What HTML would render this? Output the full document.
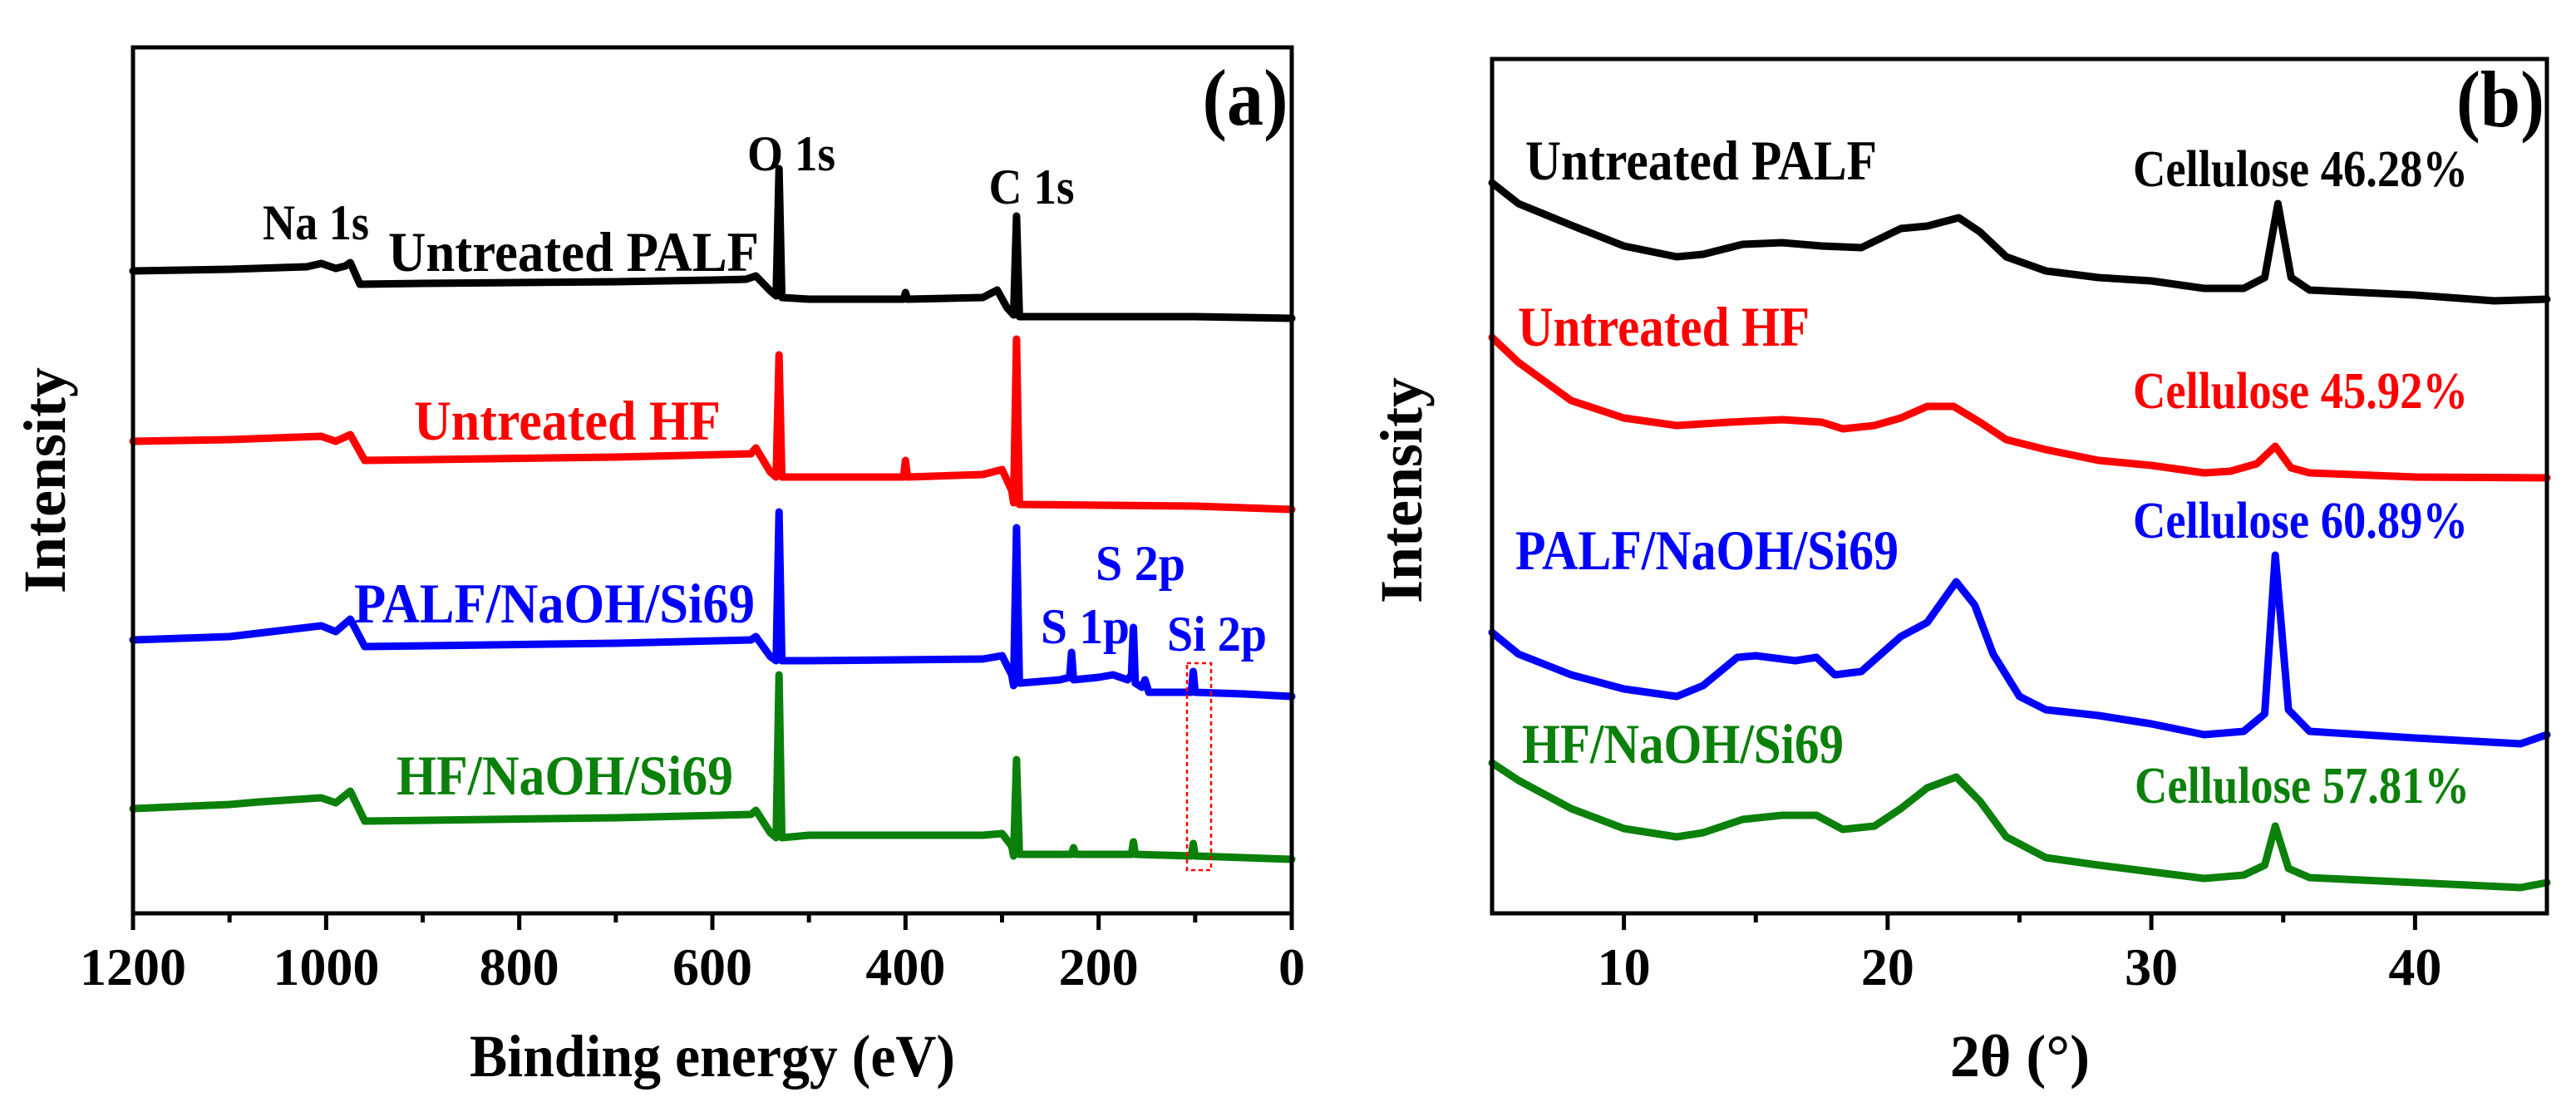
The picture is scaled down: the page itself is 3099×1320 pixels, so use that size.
<!DOCTYPE html>
<html><head><meta charset="utf-8"><style>
html,body{margin:0;padding:0;background:#fff;}
svg{display:block;font-family:"Liberation Serif",serif;font-weight:bold;}
</style></head><body>
<svg id="fig" width="3099" height="1320" viewBox="0 0 3099 1320" xmlns="http://www.w3.org/2000/svg">
<g id="pa"></g>
<g id="pb"></g>
</svg>
<script>
// Panel a (XPS) data
const aBlackE=[1200,1100,1020,1005,990,980,975,965,900,700,600,565,555,540,534,531,528,500,402,400,398,320,305,295,288,285,282,100,0];
const aBlackV=[773,775,778,782,776,779,783,757,758,760,762,763,767,749,743,896,741,739,739,747,739,741,750,729,720,839,718,718,716];
const aRedE=[1200,1100,1005,990,975,960,700,560,555,540,534,531,528,500,402,400,398,320,300,290,288,285,282,100,0];
const aRedV=[568,570,574,568,576,545,549,553,560,531,525,672,525,525,525,545,525,528,534,509,494,691,492,490,486];
const aBlueE=[1200,1100,1005,990,975,960,700,560,555,540,534,531,528,500,320,300,290,288,285,282,240,230,228,226,200,185,170,166,164,162,155,152,148,130,104,102,100,50,0];
const aBlueV=[329,333,346,339,354,321,325,329,333,309,304,483,304,304,306,310,287,274,464,277,281,284,314,281,284,287,281,287,344,277,272,281,266,266,266,291,266,264,261];
const aGreenE=[1200,1100,1070,1005,990,975,960,700,560,555,540,534,531,528,500,400,320,300,290,288,285,282,228,226,224,166,164,162,104,102,100,0];
const aGreenV=[126,131,134,139,133,147,111,115,119,124,97,91,287,91,94,94,94,96,81,69,185,71,71,79,71,71,86,71,69,84,69,65];
const aTicks=[1200,1000,800,600,400,200,0];
const aMinor=[1100,900,700,500,300,100];
// Panel b (XRD) data
const bBlackT=[5,6,8,10,12,13,14.5,16,17.5,19,20.5,21.5,22.7,23.5,24.5,26,28,30,32,33.5,34.3,34.8,35.3,36,40,43,45];
const bBlackV=[879,854,828,803,790,793,805,807,803,801,824,827,837,820,790,773,765,761,752,752,765,854,765,750,744,737,739];
const bRedT=[5,6,8,10,12,14,16,17.5,18.3,19.5,20.5,21.5,22.5,23.5,24.5,26,28,30,32,33,34,34.7,35.3,36,40,45];
const bRedV=[693,663,617,596,587,591,594,591,583,587,596,610,610,591,570,558,545,539,530,532,541,562,536,530,525,524];
const bBlueT=[5,6,8,10,12,13,14.3,15,16.5,17.3,18,19,20.5,21.5,22.6,23.3,24,25,26,28,30,32,33.5,34.3,34.7,35.2,36,40,44,45];
const bBlueV=[338,312,287,270,261,274,308,310,304,308,287,291,333,350,399,371,312,261,245,238,228,215,219,240,431,245,219,211,204,215];
const bGreenT=[5,6,8,10,12,13,14.5,16,17.3,18.3,19.5,20.5,21.5,22.6,23.5,24.5,26,28,30,32,33.5,34.3,34.7,35.2,36,40,44,45];
const bGreenV=[181,160,126,102,92,97,113,118,118,101,105,126,151,164,135,92,67,58,50,42,46,58,105,54,43,37,31,37];
const bTicks=[10,20,30,40];
const bMinor=[15,25,35];

const NS="http://www.w3.org/2000/svg";
function mk(parent,tag,attrs,text){const e=document.createElementNS(NS,tag);for(const k in attrs)e.setAttribute(k,attrs[k]);if(text!==undefined)e.textContent=text;parent.appendChild(e);return e;}
const BOT=1099;
// panel a axes
const aL=160,aR=1554,aT=57;
const ax=e=>aL+(1200-e)/1200*(aR-aL);
const ay=v=>BOT-v/1042*(BOT-aT);
// panel b axes
const bL=1795,bR=3064,bT=71;
const bx=t=>bL+(t-5)/40*(bR-bL);
const by=v=>BOT-v/1028*(BOT-bT);

function series(g,X,V,fx,fy,color,name){
  const d=X.map((x,i)=>(i?'L':'M')+fx(x).toFixed(1)+','+fy(V[i]).toFixed(1)).join('');
  const p=mk(g,'path',{d:d,fill:'none',stroke:color,'stroke-width':9,'stroke-linejoin':'round','stroke-linecap':'round'});
  
  
}
function label(g,x,y,txt,color,size,len,name,anchor){
  const t=mk(g,'text',{x:x,y:y,fill:color,'font-size':size,'text-anchor':anchor||'start'},txt);
  if(len){t.setAttribute('textLength',len);t.setAttribute('lengthAdjust','spacingAndGlyphs');}
  
  
}
function frame(g,L,R,T,name){
  const r=mk(g,'rect',{x:L,y:T,width:R-L,height:BOT-T,fill:'none',stroke:'#000','stroke-width':5});
  
  
}
const ga=document.getElementById('pa'), gb=document.getElementById('pb');
const RED='#ff0000',BLUE='#0000ff',GREEN='#0b800b';

// Panel a
series(ga,aBlackE,aBlackV,ax,ay,'#000','xps-untreated-palf');
series(ga,aRedE,aRedV,ax,ay,RED,'xps-untreated-hf');
series(ga,aBlueE,aBlueV,ax,ay,BLUE,'xps-palf-naoh-si69');
series(ga,aGreenE,aGreenV,ax,ay,GREEN,'xps-hf-naoh-si69');
frame(ga,aL,aR,aT,'plot-frame-a');
aTicks.forEach(t=>{
  const l=mk(ga,'line',{x1:ax(t),x2:ax(t),y1:BOT,y2:BOT+20,stroke:'#000','stroke-width':5});
  
  
  label(ga,ax(t),1185,String(t),'#000',64,null,'x-tick-label-a','middle');
});
aMinor.forEach(t=>{
  const l=mk(ga,'line',{x1:ax(t),x2:ax(t),y1:BOT,y2:BOT+11,stroke:'#000','stroke-width':5});
  
  
});
const box=mk(ga,'rect',{x:1428,y:798,width:29,height:249,fill:'none',stroke:RED,'stroke-width':2.5,'stroke-dasharray':'5,4'});


label(ga,380,288,'Na 1s','#000',60,128,'na1s-label','middle');
label(ga,952,205,'O 1s','#000',60,106,'o1s-label','middle');
label(ga,1241,245,'C 1s','#000',60,103,'c1s-label','middle');
label(ga,467,326,'Untreated PALF','#000',68,446,'label-untreated-palf-a');
label(ga,498,529,'Untreated HF',RED,68,369,'label-untreated-hf-a');
label(ga,426,749,'PALF/NaOH/Si69',BLUE,68,482,'label-palf-naoh-si69-a');
label(ga,477,956,'HF/NaOH/Si69',GREEN,68,405,'label-hf-naoh-si69-a');
label(ga,1318,698,'S 2p',BLUE,60,108,'s2p-label');
label(ga,1252,774,'S 1p',BLUE,60,107,'s1p-label');
label(ga,1404,783,'Si 2p',BLUE,60,120,'si2p-label');
label(ga,1498,150,'(a)','#000',96,103,'panel-a-tag','middle');
label(ga,857,1295,'Binding energy (eV)','#000',72,584,'x-axis-title-a','middle');
const ya=mk(ga,'text',{x:0,y:0,'font-size':72,'text-anchor':'middle',fill:'#000',transform:'translate(78,578) rotate(-90)'},'Intensity');



// Panel b
series(gb,bBlackT,bBlackV,bx,by,'#000','xrd-untreated-palf');
series(gb,bRedT,bRedV,bx,by,RED,'xrd-untreated-hf');
series(gb,bBlueT,bBlueV,bx,by,BLUE,'xrd-palf-naoh-si69');
series(gb,bGreenT,bGreenV,bx,by,GREEN,'xrd-hf-naoh-si69');
frame(gb,bL,bR,bT,'plot-frame-b');
bTicks.forEach(t=>{
  const l=mk(gb,'line',{x1:bx(t),x2:bx(t),y1:BOT,y2:BOT+20,stroke:'#000','stroke-width':5});
  
  
  label(gb,bx(t),1185,String(t),'#000',64,null,'x-tick-label-b','middle');
});
bMinor.forEach(t=>{
  const l=mk(gb,'line',{x1:bx(t),x2:bx(t),y1:BOT,y2:BOT+11,stroke:'#000','stroke-width':5});
  
  
});
label(gb,1835,216,'Untreated PALF','#000',68,423,'label-untreated-palf-b');
label(gb,1826,416,'Untreated HF',RED,68,351,'label-untreated-hf-b');
label(gb,1823,685,'PALF/NaOH/Si69',BLUE,68,461,'label-palf-naoh-si69-b');
label(gb,1831,918,'HF/NaOH/Si69',GREEN,68,387,'label-hf-naoh-si69-b');
label(gb,2566,224,'Cellulose 46.28%','#000',62,403,'cellulose-label-palf');
label(gb,2566,491,'Cellulose 45.92%',RED,62,403,'cellulose-label-hf');
label(gb,2566,647,'Cellulose 60.89%',BLUE,62,403,'cellulose-label-palf-si69');
label(gb,2568,966,'Cellulose 57.81%',GREEN,62,403,'cellulose-label-hf-si69');
label(gb,3008,152,'(b)','#000',96,106,'panel-b-tag','middle');
label(gb,2430,1295,'2θ (°)','#000',72,null,'x-axis-title-b','middle');
const yb=mk(gb,'text',{x:0,y:0,'font-size':72,'text-anchor':'middle',fill:'#000',transform:'translate(1710,590) rotate(-90)'},'Intensity');


</script>
</body></html>
